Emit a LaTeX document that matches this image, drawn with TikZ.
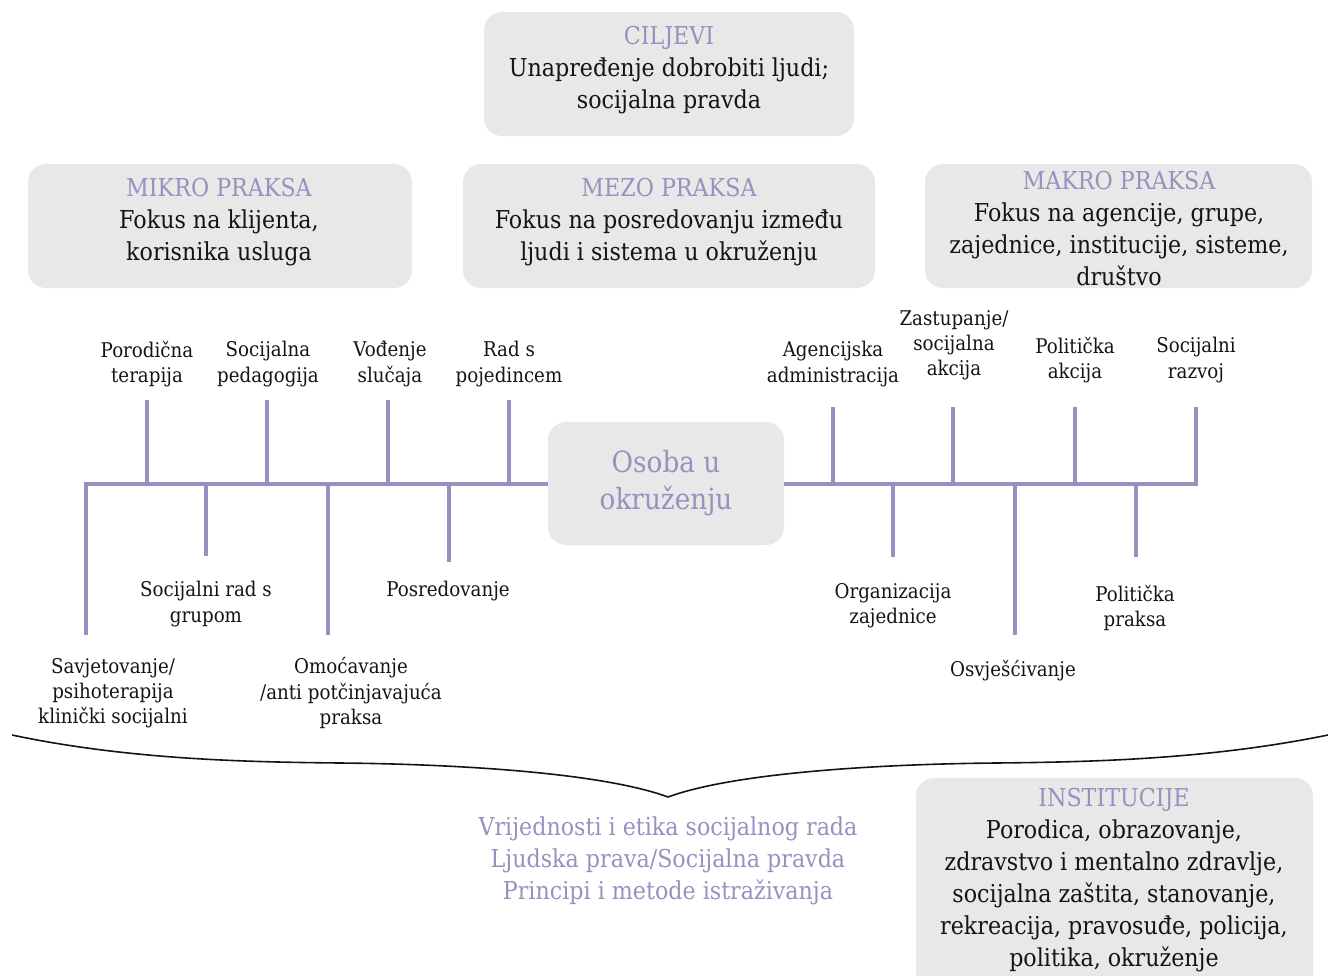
\documentclass[tikz,border=0pt]{standalone}
\usepackage{fontspec}
\setmainfont{DejaVu Serif}[FakeStretch=0.9]
\usetikzlibrary{fit}
\definecolor{boxgray}{RGB}{232,232,232}
\definecolor{lilac}{RGB}{150,145,190}
\definecolor{axisc}{RGB}{150,145,192}
\definecolor{ink}{RGB}{20,20,20}
\newcommand\bodyfont{\fontsize{18.5}{24}\selectfont}
\newcommand\labfont{\fontsize{15.2}{18.9}\selectfont}
\newcommand\bigfont{\fontsize{21.9}{27.75}\selectfont}
\tikzset{
  panel/.style={fill=boxgray, draw=none, rounded corners=13.5pt, inner sep=0pt},
  body/.style={align=center, font=\bodyfont, text=ink, inner sep=0pt},
  lab/.style={align=center, font=\labfont, text=ink, inner sep=0pt},
  axis/.style={draw=axisc, line width=2.4pt},
  brace/.style={draw=ink, line width=1.2pt},
}
\begin{document}
\begin{tikzpicture}[x=0.75pt, y=-0.75pt]
\useasboundingbox (0,0) rectangle (1328,975);
\clip (0,0) rectangle (1328,975);

% goal and practice panels
\node[panel, fit={(484,12) (854,136)}] (ciljbox) {};
\node[body] (cilj) at (669,70) {{\color{lilac}CILJEVI}\\Unapređenje dobrobiti ljudi;\\socijalna pravda};

\node[panel, fit={(28,164) (412,288)}] (mikrobox) {};
\node[body] (mikro) at (219,222) {{\color{lilac}MIKRO PRAKSA}\\Fokus na klijenta,\\korisnika usluga};

\node[panel, fit={(463,164) (875,288)}] (mezobox) {};
\node[body] (mezo) at (669,222) {{\color{lilac}MEZO PRAKSA}\\Fokus na posredovanju između\\ljudi i sistema u okruženju};

\node[panel, fit={(925,164) (1312,288)}] (makrobox) {};
\node[body] (makro) at (1119,229) {{\color{lilac}MAKRO PRAKSA}\\Fokus na agencije, grupe,\\zajednice, institucije, sisteme,\\društvo};

% central node
\node[panel, minimum width=177pt, minimum height=92.25pt, align=center,
      font=\bigfont, text=lilac] (osoba) at (666,483.5) {Osoba u\\okruženju};

% axis to the left, ending in a downward corner
\coordinate (lcorner) at (86,484);
\coordinate (lcend) at (86,635);
\draw[axis] (osoba.west |- lcorner) -- (lcorner) -- (lcend);
% axis to the right, ending in an upward corner
\coordinate (rcorner) at (1196,484);
\coordinate (rcend) at (1196,407);
\draw[axis] (osoba.east |- rcorner) -- (rcorner) -- (rcend);

% upward ticks
\foreach \n/\x/\t in {a/147/400, b/267/400, c/388/400, d/509/400, e/833/407, f/953/407, g/1075/407}{
  \coordinate (ub\n) at (\x,484);
  \coordinate (ut\n) at (\x,\t);
  \draw[axis] (ub\n) -- (ut\n);
}
% downward ticks
\foreach \n/\x/\t in {a/206/556, b/328/635, c/449/562, d/893/557, e/1015/635, f/1136/557}{
  \coordinate (db\n) at (\x,484);
  \coordinate (dt\n) at (\x,\t);
  \draw[axis] (db\n) -- (dt\n);
}

% labels above the axis
\node[lab] (porod) at (147,364) {Porodična\\terapija};
\node[lab] (pedag) at (268,364) {Socijalna\\pedagogija};
\node[lab] (vodj) at (390,364) {Vođenje\\slučaja};
\node[lab] (pojed) at (509,364) {Rad s\\pojedincem};
\node[lab] (agenc) at (833,364) {Agencijska\\administracija};
\node[lab] (zastup) at (954,345) {Zastupanje/\\socijalna\\akcija};
\node[lab] (polakc) at (1075,360) {Politička\\akcija};
\node[lab] (razvoj) at (1196,360) {Socijalni\\razvoj};

% labels below the axis
\node[lab] (grupa) at (206,604) {Socijalni rad s\\grupom};
\node[lab] (posred) at (448,591) {Posredovanje};
\node[lab] (savjet) at (113,693) {Savjetovanje/\\psihoterapija\\klinički socijalni};
\node[lab] (omoc) at (351,693) {Omoćavanje\\/anti potčinjavajuća\\praksa};
\node[lab] (organ) at (893,606) {Organizacija\\zajednice};
\node[lab] (osvj) at (1013,671) {Osvješćivanje};
\node[lab] (polpr) at (1135,608) {Politička\\praksa};

% brace gathering everything above
\coordinate (bl) at (12,735);
\coordinate (bml) at (340,763);
\coordinate (btip) at (668,797);
\coordinate (bmr) at (996,763);
\coordinate (br) at (1328,735);
\draw[brace] (bl) .. controls (130,760) and (250,762) .. (bml)
  .. controls (450,764) and (600,772) .. (btip)
  .. controls (736,772) and (886,764) .. (bmr)
  .. controls (1086,762) and (1206,760) .. (br);

\node[body, text=lilac] (vrijed) at (668,861) {Vrijednosti i etika socijalnog rada\\Ljudska prava/Socijalna pravda\\Principi i metode istraživanja};

% institutions panel
\node[panel, fit={(916,778) (1313,1000)}] (instbox) {};
\node[body] (inst) at (1114,880) {{\color{lilac}INSTITUCIJE}\\Porodica, obrazovanje,\\zdravstvo i mentalno zdravlje,\\socijalna zaštita, stanovanje,\\rekreacija, pravosuđe, policija,\\politika, okruženje};
\end{tikzpicture}
\end{document}
